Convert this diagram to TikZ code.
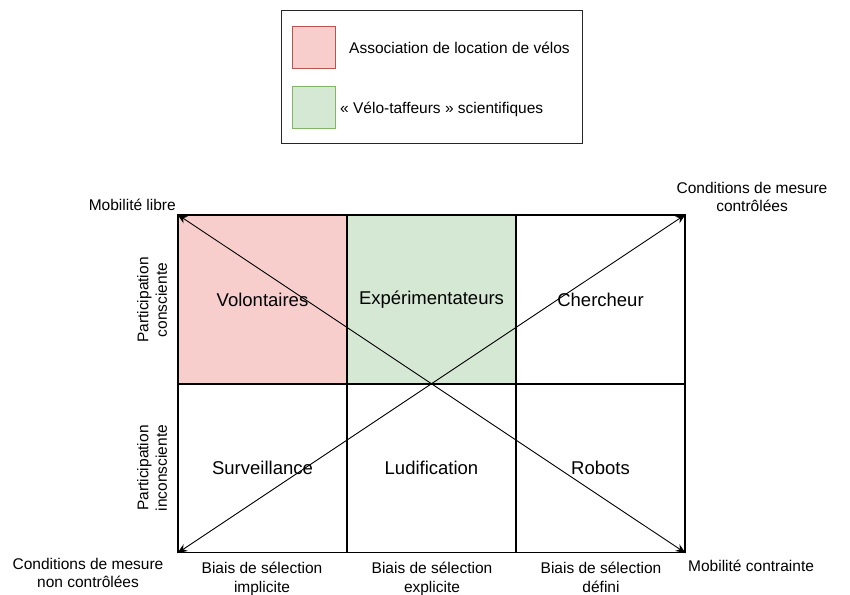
\documentclass[tikz,border=0pt]{standalone}
\usepackage{fontspec}
\setmainfont{Liberation Sans}
\usetikzlibrary{arrows.meta}
\definecolor{redfill}{HTML}{F8CECC}
\definecolor{redline}{HTML}{B85450}
\definecolor{greenfill}{HTML}{D5E8D4}
\definecolor{greenline}{HTML}{82B366}
\tikzset{
  cell/.style={draw=black, line width=1.2pt, minimum width=169pt, minimum height=169pt, inner sep=0pt, font=\fontsize{18.5}{22}\selectfont},
  lbl/.style={font=\fontsize{15.5}{18.5}\selectfont, align=center, inner sep=0pt},
  swatch/.style={line width=0.9pt, minimum width=43pt, minimum height=42pt, inner sep=0pt},
  diag/.style={line width=0.9pt, {Stealth[length=10pt,width=8pt]}-{Stealth[length=10pt,width=8pt]}}
}
\begin{document}
\begin{tikzpicture}[x=1pt,y=-1pt]
\useasboundingbox (0,0) rectangle (850,594);
% legend
\node[draw=black!85, line width=0.9pt, minimum width=301pt, minimum height=133pt, inner sep=0pt] (legend) at (431.5,76.5) {};
\node[swatch, draw=redline, fill=redfill] (sw1) at (313.5,47) {};
\node[swatch, draw=greenline, fill=greenfill] (sw2) at (313.5,107) {};
\node[lbl, anchor=west] (t1) at (349,48) {Association de location de vélos};
\node[lbl, anchor=west] (t2) at (340,109) {« Vélo-taffeurs » scientifiques};
% grid
\node[cell, fill=redfill] (c11) at (262.5,299.5) {Volontaires};
\node[cell, fill=greenfill] (c12) at (431.5,299.5) {Expérimentateurs};
\node[cell] (c13) at (600.5,299.5) {Chercheur};
\node[cell] (c21) at (262.5,468) {Surveillance};
\node[cell] (c22) at (431.5,468) {Ludification};
\node[cell] (c23) at (600.5,468) {Robots};
\coordinate (tl) at (c11.north west);
\coordinate (tr) at (c13.north east);
\coordinate (bl) at (c21.south west);
\coordinate (br) at (c23.south east);
\draw[diag] (tl) -- (br);
\draw[diag] (bl) -- (tr);
% side labels
\node[lbl, rotate=90] (p1) at (152,300) {Participation\\consciente};
\node[lbl, rotate=90] (p2) at (152,468) {Participation\\inconsciente};
\node[lbl, anchor=north] (b1) at (262,562) {Biais de sélection\\implicite};
\node[lbl, anchor=north] (b2) at (432,562) {Biais de sélection\\explicite};
\node[lbl, anchor=north] (b3) at (601,562) {Biais de sélection\\défini};
\node[lbl, anchor=north] (cn) at (88,558) {Conditions de mesure\\non contrôlées};
\node[lbl, anchor=west] (mc) at (688,566) {Mobilité contrainte};
\node[lbl] (cc) at (752,197) {Conditions de mesure\\contrôlées};
\node[lbl, anchor=east] (ml) at (176,205) {Mobilité libre};
\end{tikzpicture}
\end{document}
